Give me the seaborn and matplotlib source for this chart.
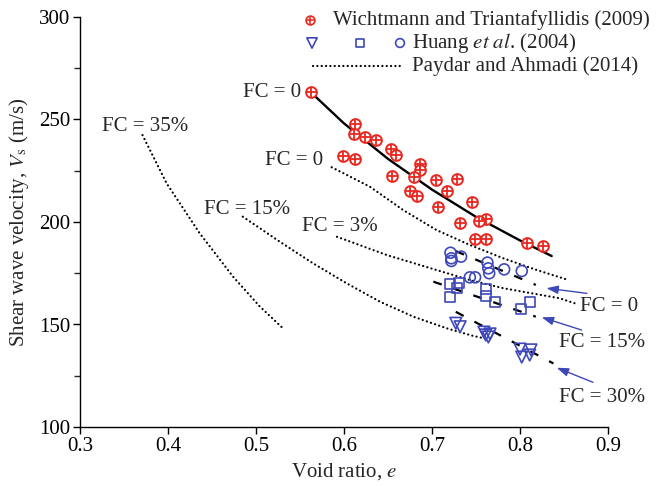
import numpy as np
import pandas as pd
import matplotlib
matplotlib.use("Agg")
import matplotlib.pyplot as plt
import seaborn as sns

# ---------------- data ----------------
# Wichtmann and Triantafyllidis (2009)
wt_e = [0.562, 0.612, 0.611, 0.624, 0.636, 0.653, 0.659, 0.599, 0.612, 0.686,
        0.686, 0.654, 0.679, 0.704, 0.728, 0.675, 0.683, 0.717, 0.707, 0.746,
        0.761, 0.753, 0.732, 0.749, 0.761, 0.808, 0.826]
wt_v = [263.4, 247.7, 242.9, 241.3, 240.0, 235.5, 232.8, 232.3, 230.7, 228.1,
        225.5, 222.4, 221.8, 220.5, 221.1, 215.0, 212.7, 215.3, 207.2, 209.6,
        201.6, 200.5, 199.7, 191.9, 191.9, 189.9, 188.4]
# fitted solid curve
wt_fit_e = [0.562, 0.600, 0.650, 0.700, 0.750, 0.800, 0.836]
wt_fit_v = [263.4, 248.1, 230.8, 215.8, 202.5, 191.0, 183.4]

# Huang et al. (2004)
hc_e = [0.721, 0.722, 0.722, 0.733, 0.763, 0.764, 0.765, 0.782, 0.802, 0.743, 0.749]   # FC = 0
hc_v = [185.0, 182.3, 181.0, 183.1, 180.2, 177.4, 175.0, 176.9, 176.1, 173.0, 173.0]
hs_e = [0.721, 0.731, 0.728, 0.721, 0.761, 0.761, 0.772, 0.811, 0.801]                 # FC = 15%
hs_v = [169.6, 170.1, 167.7, 163.3, 167.2, 163.9, 161.1, 161.1, 157.4]
ht_e = [0.727, 0.732, 0.759, 0.761, 0.764, 0.766, 0.800, 0.8125, 0.802, 0.811]         # FC = 30%
ht_v = [150.6, 148.9, 146.3, 144.9, 143.9, 145.4, 138.0, 137.6, 134.1, 135.1]
# Huang dashed fits
hfit0_e, hfit0_v = [0.727, 0.818], [185.8, 169.3]
hfit15_e, hfit15_v = [0.7015, 0.818], [170.9, 153.8]
hfit30_e, hfit30_v = [0.727, 0.838], [156.2, 131.0]

# Paydar and Ahmadi (2014) dotted curves
p0_e = [0.586, 0.6295, 0.667, 0.705, 0.743, 0.781, 0.819, 0.855]
p0_v = [226.7, 217.2, 205.9, 196.1, 188.8, 182.3, 176.6, 171.7]
p3_e = [0.592, 0.6485, 0.705, 0.743, 0.781, 0.845, 0.8625]
p3_v = [192.8, 183.9, 176.6, 171.7, 167.7, 162.8, 160.3]
p15_e = [0.485, 0.527, 0.565, 0.603, 0.641, 0.679, 0.717, 0.747, 0.758]
p15_v = [202.6, 190.4, 179.8, 170.1, 161.1, 153.8, 148.1, 144.4, 143.4]
p35_e = [0.371, 0.3985, 0.436, 0.474, 0.5045, 0.530]
p35_v = [242.4, 218.8, 194.5, 173.3, 158.7, 148.4]

x_ticks = [0.3, 0.4, 0.5, 0.6, 0.7, 0.8, 0.9]
y_ticks = [100, 150, 200, 250, 300]

# ---------------- style ----------------
sns.set_style("ticks")
plt.rcParams["font.family"] = ["Liberation Serif", "DejaVu Serif"]
plt.rcParams["mathtext.fontset"] = "stix"
FS = 15

RED = "#e8271f"
BLUE = "#3f48b8"

fig = plt.figure(figsize=(6.56, 4.86), dpi=100)
ax = fig.add_axes([80 / 656, 1 - 427 / 486, (608 - 80) / 656, (427 - 17) / 486])

dotted = (0, (0.05, 1.9))
DOT_LW = 1.6
for e, v in [(p0_e, p0_v), (p3_e, p3_v), (p15_e, p15_v), (p35_e, p35_v)]:
    ln = ax.plot(e, v, color="black", lw=DOT_LW, linestyle=dotted,
                 dash_capstyle="round")

for e, v in [(hfit0_e, hfit0_v), (hfit15_e, hfit15_v), (hfit30_e, hfit30_v)]:
    ax.plot(e, v, color="black", lw=1.6, dashes=(4, 5.5))

sns.lineplot(x=wt_fit_e, y=wt_fit_v, ax=ax, color="black", lw=1.7,
             sort=False, estimator=None)

# Wichtmann markers (circle with plus)
sns.scatterplot(x=wt_e, y=wt_v, ax=ax, marker="o", s=60, facecolor="white",
                edgecolor=RED, linewidth=1.4, zorder=5)
ax.scatter(wt_e, wt_v, marker="+", s=45, color=RED, linewidth=1.3, zorder=6)

# Huang markers
sns.scatterplot(x=hc_e, y=hc_v, ax=ax, marker="o", s=62, facecolor="none",
                edgecolor=BLUE, linewidth=1.2, zorder=5)
sns.scatterplot(x=hs_e, y=hs_v, ax=ax, marker="s", s=52, facecolor="none",
                edgecolor=BLUE, linewidth=1.2, zorder=5)
sns.scatterplot(x=ht_e, y=ht_v, ax=ax, marker="v", s=70, facecolor="none",
                edgecolor=BLUE, linewidth=1.2, zorder=5)

# axes
ax.set_xlim(0.3, 0.9)
ax.set_ylim(100, 300)
ax.set_xticks(x_ticks)
ax.set_xticklabels([f"{t:.1f}" for t in x_ticks])
ax.set_yticks(y_ticks)
ax.set_yticks([125, 175, 225, 275], minor=True)
ax.tick_params(axis="both", which="major", direction="out", length=5, width=1,
               labelsize=FS, colors="black", pad=2)
ax.tick_params(axis="y", which="minor", direction="out", length=4, width=1)
for s in ["top", "right"]:
    ax.spines[s].set_visible(False)
for s in ["left", "bottom"]:
    ax.spines[s].set_color("black")
    ax.spines[s].set_linewidth(1.0)
ax.set_xlabel(r"Void ratio, $e$", fontsize=FS, labelpad=4)
ax.set_ylabel(r"Shear wave velocity, $V_{\mathrm{s}}$ (m/s)", fontsize=FS, labelpad=6)

# curve labels
ax.text(0.5508, 263.4, "FC = 0", fontsize=FS, ha="right", va="center")
ax.text(0.510, 230.2, "FC = 0", fontsize=FS, ha="left", va="center")
ax.text(0.552, 197.6, "FC = 3%", fontsize=FS, ha="left", va="center")
ax.text(0.441, 205.9, "FC = 15%", fontsize=FS, ha="left", va="center")
ax.text(0.3247, 246.8, "FC = 35%", fontsize=FS, ha="left", va="center")
ax.text(0.868, 159.0, "FC = 0", fontsize=FS, ha="left", va="center")
ax.text(0.844, 141.0, "FC = 15%", fontsize=FS, ha="left", va="center")
ax.text(0.844, 114.6, "FC = 30%", fontsize=FS, ha="left", va="center")

arrow_kw = dict(arrowstyle="-|>,head_length=0.7,head_width=0.25", color=BLUE, lw=1.0,
                shrinkA=0, shrinkB=0)
ax.annotate("", xy=(0.830, 167.7), xytext=(0.876, 165.2), arrowprops=arrow_kw)
ax.annotate("", xy=(0.8247, 153.5), xytext=(0.870, 147.3), arrowprops=arrow_kw)
ax.annotate("", xy=(0.8417, 128.9), xytext=(0.883, 121.8), arrowprops=arrow_kw)

# manual legend (axes-fraction positions)
def fx(px):
    return (px - 80) / (608 - 80)

def fy(py):
    return (427 - py) / (427 - 17)

tr = ax.transAxes
ax.scatter([fx(310)], [fy(20)], transform=tr, marker="o", s=40, facecolor="white",
           edgecolor=RED, linewidth=1.2, zorder=6, clip_on=False)
ax.scatter([fx(310)], [fy(20)], transform=tr, marker="+", s=28, color=RED,
           linewidth=1.1, zorder=7, clip_on=False)
ax.text(fx(333), fy(20), "Wichtmann and Triantafyllidis (2009)", transform=tr,
        fontsize=FS, ha="left", va="center")
ax.scatter([fx(312)], [fy(43)], transform=tr, marker="v", s=55, facecolor="none",
           edgecolor=BLUE, linewidth=1.2, clip_on=False)
ax.scatter([fx(360)], [fy(43)], transform=tr, marker="s", s=40, facecolor="none",
           edgecolor=BLUE, linewidth=1.2, clip_on=False)
ax.scatter([fx(400)], [fy(43)], transform=tr, marker="o", s=40, facecolor="none",
           edgecolor=BLUE, linewidth=1.2, clip_on=False)
ax.text(fx(412), fy(43), r"Huang $\mathit{et\ al}$. (2004)", transform=tr,
        fontsize=FS, ha="left", va="center")
ax.plot([fx(313), fx(403)], [fy(66), fy(66)], transform=tr, color="black", lw=DOT_LW,
        linestyle=dotted, dash_capstyle="round", clip_on=False)
ax.text(fx(412), fy(66), "Paydar and Ahmadi (2014)", transform=tr,
        fontsize=FS, ha="left", va="center")

fig.savefig("out.png", dpi=100)
